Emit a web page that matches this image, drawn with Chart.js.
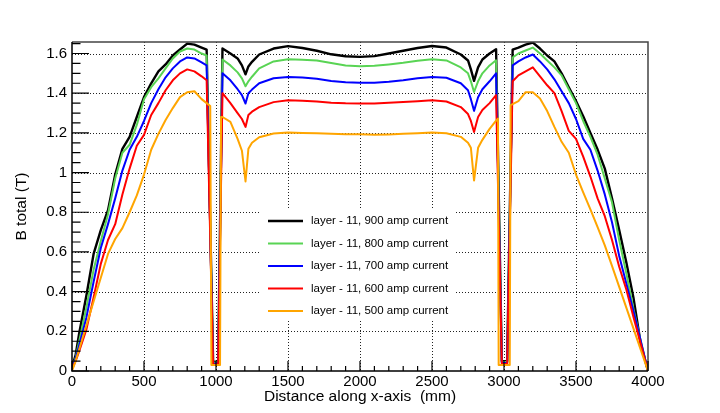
<!DOCTYPE html>
<html lang="en">
<head>
<meta charset="UTF-8">
<title>B total along x-axis</title>
<script src="https://cdn.jsdelivr.net/npm/chart.js"></script>
<style>
    body { margin: 0; background: #fff; }
    #wrap { width: 720px; height: 413px; }
</style>
</head>
<body>
<div id="wrap"><canvas id="chartCanvas" width="720" height="413"></canvas></div>
<script>
// x positions (mm) shared by all series, null = that series has no point there
const xPos = [
    0, 25, 50, 100, 150, 200, 250, 300, 350, 400,
    450, 500, 550, 600, 650, 700, 750, 800, 850, 900,
    935, 960, 968, 980, 1015, 1028, 1035, 1045,
    1100, 1150, 1180, 1205, 1225, 1250, 1300,
    1400, 1500, 1600, 1700, 1800, 1900, 2000, 2100, 2200, 2300, 2400, 2500, 2600, 2700,
    2750, 2770, 2792, 2820, 2850, 2900, 2945,
    2958, 2963, 2985, 3022, 3040, 3046, 3060,
    3100, 3150, 3200, 3250, 3300, 3350, 3400, 3450, 3500, 3550,
    3600, 3650, 3700, 3750, 3800, 3850, 3900, 3950, 4000
];

const b900 = [
    0.02, 0.08, 0.19, 0.38, 0.59, 0.71, 0.81, 0.99, 1.12, 1.18,
    1.28, 1.38, 1.45, 1.51, 1.545, 1.59, 1.62, 1.65, 1.645, 1.63,
    1.62, null, null, 0.045, 0.05, null, null, 1.625,
    1.60, 1.575, 1.54, 1.495, 1.535, 1.558, 1.595,
    1.625, 1.637, 1.628, 1.614, 1.596, 1.586, 1.583, 1.587, 1.60, 1.614, 1.628, 1.638, 1.63, 1.595,
    1.565, 1.52, 1.462, 1.53, 1.57, 1.60, 1.622,
    null, null, 0.05, 0.05, null, null, 1.62,
    1.63, 1.645, 1.655, 1.625, 1.59, 1.56, 1.50, 1.43, 1.36, 1.284,
    1.20, 1.116, 1.02, 0.87, 0.71, 0.545, 0.365, 0.135, 0.0
];

const b800 = [
    0.02, 0.065, 0.15, 0.32, 0.51, 0.655, 0.79, 0.97, 1.10, 1.14,
    1.24, 1.37, 1.43, 1.475, 1.525, 1.575, 1.61, 1.625, 1.62, 1.60,
    1.59, null, null, 0.04, 0.045, null, null, 1.57,
    1.54, 1.505, 1.475, 1.435, 1.46, 1.483, 1.525,
    1.56, 1.571, 1.569, 1.565, 1.552, 1.54, 1.536, 1.538, 1.545, 1.553, 1.563, 1.571, 1.565, 1.53,
    1.50, 1.46, 1.406, 1.46, 1.50, 1.54, 1.566,
    null, null, 0.045, 0.045, null, null, 1.58,
    1.60, 1.615, 1.63, 1.60, 1.565, 1.53, 1.49, 1.42, 1.35, 1.26,
    1.18, 1.09, 0.97, 0.85, 0.66, 0.49, 0.31, 0.15, 0.0
];

const b700 = [
    0.015, 0.06, 0.13, 0.27, 0.45, 0.62, 0.74, 0.87, 1.01, 1.115,
    1.18, 1.26, 1.35, 1.42, 1.48, 1.525, 1.56, 1.58, 1.575, 1.555,
    1.54, null, null, 0.035, 0.04, null, null, 1.50,
    1.465, 1.42, 1.39, 1.348, 1.40, 1.418, 1.45,
    1.475, 1.482, 1.479, 1.473, 1.462, 1.455, 1.453, 1.453, 1.458, 1.465, 1.475, 1.482, 1.478, 1.45,
    1.415, 1.37, 1.311, 1.38, 1.42, 1.46, 1.50,
    null, null, 0.04, 0.04, null, null, 1.54,
    1.56, 1.58, 1.595, 1.56, 1.52, 1.47, 1.41, 1.35, 1.27, 1.17,
    1.115, 1.01, 0.89, 0.75, 0.58, 0.44, 0.30, 0.15, 0.0
];

const b600 = [
    0.01, 0.05, 0.10, 0.21, 0.37, 0.54, 0.66, 0.74, 0.89, 1.02,
    1.135, 1.19, 1.29, 1.35, 1.415, 1.465, 1.50, 1.52, 1.51, 1.485,
    1.465, null, null, 0.03, 0.035, null, null, 1.40,
    1.35, 1.30, 1.27, 1.23, 1.29, 1.307, 1.33,
    1.355, 1.364, 1.362, 1.358, 1.352, 1.349, 1.348, 1.348, 1.352, 1.356, 1.36, 1.364, 1.358, 1.33,
    1.295, 1.26, 1.205, 1.28, 1.315, 1.35, 1.39,
    null, null, 0.035, 0.035, null, null, 1.46,
    1.49, 1.51, 1.53, 1.485, 1.44, 1.40, 1.31, 1.21, 1.17, 1.08,
    0.98, 0.87, 0.78, 0.66, 0.525, 0.41, 0.27, 0.135, 0.0
];

const b500 = [
    0.0, 0.05, 0.11, 0.23, 0.35, 0.47, 0.59, 0.665, 0.72, 0.80,
    0.885, 0.99, 1.115, 1.195, 1.265, 1.325, 1.38, 1.405, 1.41, 1.37,
    1.35, 1.335, 0.03, null, null, 0.03, 1.28, 1.28,
    1.255, 1.17, 1.11, 0.955, 1.12, 1.15, 1.178,
    1.197, 1.202, 1.20, 1.198, 1.195, 1.193, 1.193, 1.19, 1.192, 1.195, 1.198, 1.202, 1.198, 1.18,
    1.15, 1.125, 0.96, 1.125, 1.165, 1.22, 1.262,
    1.272, 0.03, null, null, 0.03, 1.34, 1.345,
    1.36, 1.405, 1.405, 1.373, 1.31, 1.23, 1.155, 1.10, 0.99, 0.90,
    0.814, 0.725, 0.633, 0.53, 0.424, 0.318, 0.212, 0.106, 0.0
];

const seriesLabels = [
    'layer - 11, 900 amp current',
    'layer - 11, 800 amp current',
    'layer - 11, 700 amp current',
    'layer - 11, 600 amp current',
    'layer - 11, 500 amp current'
];

const xTicks = [0, 500, 1000, 1500, 2000, 2500, 3000, 3500, 4000];
const yTicks = [0, 0.2, 0.4, 0.6, 0.8, 1, 1.2, 1.4, 1.6];

const FONT = '"Liberation Sans", Arial, Helvetica, sans-serif';
const colors = ['#000000', '#59d454', '#0000ff', '#ff0000', '#ffa500'];
const allSeries = [b900, b800, b700, b600, b500];

function toPoints(values) {
    return xPos.map((x, i) => ({ x: x, y: values[i] })).filter(p => p.y !== null);
}

const datasets = allSeries.map((s, i) => ({
    label: seriesLabels[i],
    data: toPoints(s),
    borderColor: colors[i],
    borderWidth: i === 0 ? 2.4 : 2,
    pointRadius: 0,
    tension: 0,
    fill: false,
    borderJoinStyle: 'round',
    order: allSeries.length - i   // orange is drawn last, like the original
}));

// ROOT-style frame: dotted grid, inward ticks, white-filled legend
const rootFrame = {
    id: 'rootFrame',
    beforeDatasetsDraw(chart) {
        const { ctx, chartArea: a, scales: { x, y } } = chart;
        ctx.save();
        ctx.strokeStyle = '#222';
        ctx.lineWidth = 1;
        ctx.setLineDash([1, 2]);
        ctx.beginPath();
        xTicks.forEach(v => {
            if (v <= x.min || v >= x.max) return;
            const px = Math.round(x.getPixelForValue(v)) + 0.5;
            ctx.moveTo(px, a.top);
            ctx.lineTo(px, a.bottom);
        });
        yTicks.forEach(v => {
            if (v <= y.min || v >= y.max) return;
            const py = Math.round(y.getPixelForValue(v)) + 0.5;
            ctx.moveTo(a.left, py);
            ctx.lineTo(a.right, py);
        });
        ctx.stroke();
        ctx.setLineDash([]);

        // legend box covers the grid
        ctx.fillStyle = '#fff';
        ctx.fillRect(259, 209, 197, 111);
        ctx.restore();
    },
    afterDatasetsDraw(chart) {
        const { ctx, chartArea: a, scales: { x, y } } = chart;
        ctx.save();

        // frame
        ctx.lineWidth = 1.5;
        ctx.strokeStyle = '#444';
        ctx.beginPath();
        ctx.moveTo(a.left, a.top);
        ctx.lineTo(a.right, a.top);
        ctx.lineTo(a.right, a.bottom);
        ctx.stroke();
        ctx.strokeStyle = '#000';
        ctx.beginPath();
        ctx.moveTo(a.left, a.top);
        ctx.lineTo(a.left, a.bottom);
        ctx.lineTo(a.right, a.bottom);
        ctx.stroke();

        // ticks, pointing inward
        ctx.lineWidth = 1.2;
        ctx.beginPath();
        for (let k = 0; k < xTicks.length; k++) {
            const px = x.getPixelForValue(xTicks[k]);
            ctx.moveTo(px, a.bottom);
            ctx.lineTo(px, a.bottom - 10);
            if (k < xTicks.length - 1) {
                const step = (xTicks[k + 1] - xTicks[k]) / 5;
                for (let m = 1; m < 5; m++) {
                    const mx = x.getPixelForValue(xTicks[k] + m * step);
                    ctx.moveTo(mx, a.bottom);
                    ctx.lineTo(mx, a.bottom - 5);
                }
            }
        }
        yTicks.forEach(v => {
            const py = y.getPixelForValue(v);
            ctx.moveTo(a.left, py);
            ctx.lineTo(a.left + 17, py);
        });
        const yStep = (yTicks[1] - yTicks[0]) / 4;
        for (let v = yStep; v < y.max; v += yStep) {
            const py = y.getPixelForValue(v);
            ctx.moveTo(a.left, py);
            ctx.lineTo(a.left + 8.5, py);
        }
        ctx.stroke();

        // legend
        ctx.font = '11.5px ' + FONT;
        ctx.textBaseline = 'middle';
        ctx.textAlign = 'left';
        seriesLabels.forEach((label, i) => {
            const ly = 221 + i * 22.5;
            ctx.strokeStyle = colors[i];
            ctx.lineWidth = i === 0 ? 2.4 : 2;
            ctx.beginPath();
            ctx.moveTo(268, ly);
            ctx.lineTo(303, ly);
            ctx.stroke();
            ctx.fillStyle = '#000';
            ctx.fillText(label, 311, ly);
        });
        ctx.restore();
    }
};

const ctx = document.getElementById('chartCanvas').getContext('2d');
new Chart(ctx, {
    type: 'line',
    data: { datasets: datasets },
    plugins: [rootFrame],
    options: {
        responsive: false,
        animation: false,
        layout: { padding: { left: 0, right: 72, top: 42, bottom: 0 } },
        plugins: {
            legend: { display: false },
            tooltip: { enabled: false }
        },
        scales: {
            x: {
                type: 'linear',
                min: 0,
                max: 4000,
                afterFit: s => { s.height = 42; },
                afterBuildTicks: s => { s.ticks = xTicks.map(v => ({ value: v })); },
                grid: { display: false, drawTicks: false },
                border: { display: false },
                ticks: {
                    autoSkip: false,
                    maxRotation: 0,
                    padding: 2,
                    color: '#000',
                    font: { family: FONT, size: 15 },
                    callback: v => String(v)
                },
                title: {
                    display: true,
                    text: 'Distance along x-axis  (mm)',
                    color: '#000',
                    font: { family: FONT, size: 15.5 },
                    padding: { top: 0, bottom: 7 }
                }
            },
            y: {
                min: 0,
                max: 1.658,
                afterFit: s => { s.width = 72; },
                afterBuildTicks: s => { s.ticks = yTicks.map(v => ({ value: v })); },
                grid: { display: false, drawTicks: false },
                border: { display: false },
                ticks: {
                    padding: 5,
                    color: '#000',
                    font: { family: FONT, size: 15 },
                    callback: v => String(v)
                },
                title: {
                    display: true,
                    text: 'B total (T)',
                    color: '#000',
                    font: { family: FONT, size: 15.5 },
                    padding: { top: 12, bottom: 0 }
                }
            }
        }
    }
});
</script>
</body>
</html>
